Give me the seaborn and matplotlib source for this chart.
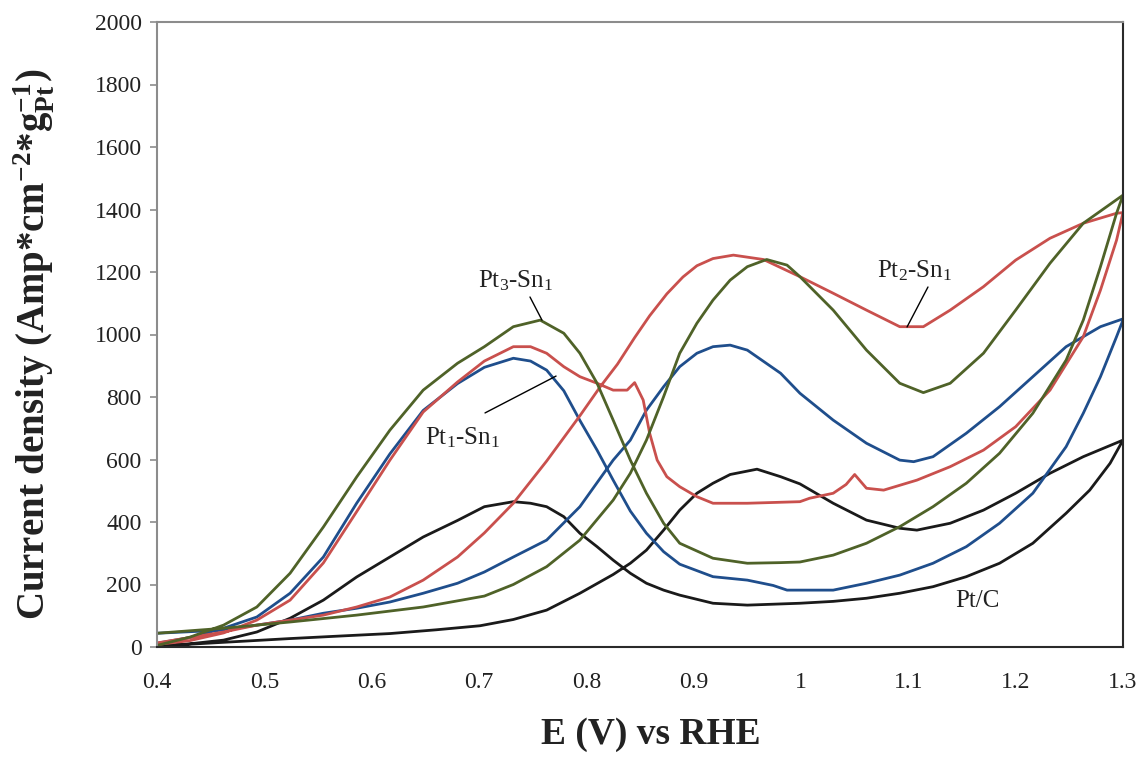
import numpy as np
import pandas as pd
import matplotlib
matplotlib.use("Agg")
import matplotlib.pyplot as plt
import seaborn as sns

# ---------------- data ----------------
# Pt/C (black) forward scan (0.4 -> 1.3) and backward scan (1.3 -> 0.4)
ptc_fwd_v = [0.40, 0.462, 0.524, 0.57, 0.617, 0.66, 0.701, 0.732, 0.763, 0.794, 0.825, 0.841,
             0.856, 0.872, 0.887, 0.903, 0.918, 0.934, 0.959, 0.981, 0.999, 1.03, 1.061, 1.092,
             1.108, 1.139, 1.17, 1.20, 1.232, 1.263, 1.30]
ptc_fwd_i = [3, 15, 27, 35, 43, 55, 68, 88, 118, 172, 232, 268,
             310, 374, 438, 492, 524, 552, 569, 545, 522, 460, 406, 380,
             374, 396, 438, 492, 556, 609, 662]
ptc_bwd_v = [1.30, 1.288, 1.269, 1.247, 1.216, 1.185, 1.154, 1.123, 1.092, 1.061, 1.03, 0.999,
             0.95, 0.918, 0.887, 0.872, 0.856, 0.841, 0.825, 0.81, 0.794, 0.779, 0.763, 0.748,
             0.732, 0.705, 0.68, 0.648, 0.617, 0.586, 0.555, 0.524, 0.493, 0.462, 0.43, 0.40]
ptc_bwd_i = [662, 588, 502, 428, 332, 268, 225, 193, 172, 156, 146, 140,
             134, 140, 166, 182, 204, 236, 278, 321, 364, 417, 449, 460,
             465, 449, 405, 352, 288, 224, 150, 92, 48, 22, 10, 2]

# Pt1-Sn1 (blue)
pt1_fwd_v = [0.40, 0.462, 0.524, 0.555, 0.586, 0.617, 0.648, 0.68, 0.705, 0.732, 0.763, 0.794,
             0.825, 0.841, 0.856, 0.872, 0.887, 0.903, 0.918, 0.934, 0.95, 0.981, 0.999, 1.03,
             1.061, 1.092, 1.105, 1.123, 1.154, 1.185, 1.216, 1.247, 1.279, 1.30]
pt1_fwd_i = [44, 54, 86, 108, 124, 144, 172, 204, 240, 288, 342, 449,
             598, 662, 758, 833, 897, 940, 961, 966, 950, 876, 812, 726,
             652, 598, 593, 609, 684, 769, 865, 961, 1025, 1050]
pt1_bwd_v = [1.30, 1.294, 1.279, 1.263, 1.247, 1.216, 1.185, 1.154, 1.123, 1.092, 1.061, 1.03,
             0.999, 0.987, 0.974, 0.95, 0.918, 0.887, 0.872, 0.856, 0.841, 0.825, 0.81, 0.794,
             0.779, 0.763, 0.748, 0.732, 0.705, 0.68, 0.648, 0.617, 0.586, 0.555, 0.524, 0.493,
             0.462, 0.43, 0.40]
pt1_bwd_i = [1046, 993, 865, 748, 641, 492, 396, 321, 268, 230, 204, 182,
             182, 182, 197, 214, 225, 265, 305, 364, 435, 534, 630, 725,
             820, 886, 915, 924, 895, 843, 757, 618, 460, 288, 172, 96,
             60, 30, 12]

# Pt2-Sn1 (red)
pt2_fwd_v = [0.40, 0.462, 0.493, 0.524, 0.555, 0.586, 0.617, 0.648, 0.68, 0.705, 0.732, 0.763,
             0.794, 0.813, 0.829, 0.845, 0.859, 0.875, 0.89, 0.903, 0.918, 0.937, 0.965, 0.999,
             1.03, 1.061, 1.092, 1.114, 1.139, 1.17, 1.20, 1.232, 1.263, 1.294, 1.30]
pt2_fwd_i = [13, 48, 70, 86, 102, 128, 160, 214, 288, 365, 460, 595,
             740, 833, 905, 990, 1060, 1130, 1184, 1220, 1243, 1254, 1240, 1185,
             1132, 1078, 1025, 1025, 1078, 1153, 1238, 1308, 1356, 1388, 1390]
pt2_bwd_v = [1.30, 1.294, 1.279, 1.263, 1.232, 1.20, 1.17, 1.139, 1.108, 1.077, 1.061, 1.05,
             1.042, 1.03, 1.008, 0.999, 0.95, 0.918, 0.903, 0.887, 0.875, 0.866, 0.859, 0.853,
             0.845, 0.838, 0.825, 0.81, 0.794, 0.779, 0.763, 0.748, 0.732, 0.705, 0.68, 0.648,
             0.617, 0.586, 0.555, 0.524, 0.493, 0.462, 0.43, 0.40]
pt2_bwd_i = [1390, 1302, 1142, 993, 822, 705, 630, 577, 534, 502, 508, 552,
             520, 492, 476, 465, 460, 460, 481, 513, 545, 598, 684, 790,
             846, 822, 822, 844, 865, 897, 940, 961, 961, 915, 848, 752,
             598, 433, 269, 150, 86, 45, 20, 8]

# Pt3-Sn1 (green)
pt3_fwd_v = [0.40, 0.462, 0.524, 0.586, 0.648, 0.705, 0.732, 0.763, 0.794, 0.825, 0.841, 0.856,
             0.872, 0.887, 0.903, 0.918, 0.934, 0.95, 0.968, 0.987, 0.999, 1.03, 1.061, 1.092,
             1.114, 1.139, 1.17, 1.20, 1.232, 1.263, 1.30]
pt3_fwd_i = [44, 60, 80, 102, 128, 163, 200, 257, 342, 470, 556, 662,
             801, 940, 1036, 1110, 1174, 1217, 1240, 1222, 1185, 1078, 950, 844,
             814, 844, 940, 1078, 1228, 1356, 1446]
pt3_bwd_v = [1.30, 1.294, 1.279, 1.263, 1.247, 1.216, 1.185, 1.154, 1.123, 1.092, 1.061, 1.03,
             0.999, 0.981, 0.95, 0.918, 0.887, 0.872, 0.856, 0.841, 0.825, 0.81, 0.794, 0.779,
             0.757, 0.732, 0.705, 0.68, 0.648, 0.617, 0.586, 0.555, 0.524, 0.493, 0.462, 0.431,
             0.40]
pt3_bwd_i = [1446, 1388, 1217, 1046, 918, 748, 620, 524, 449, 385, 332, 294,
             272, 270, 268, 284, 332, 396, 492, 598, 726, 844, 940, 1004,
             1046, 1025, 961, 908, 822, 694, 544, 384, 236, 128, 70, 32,
             5]

x_ticks = [0.4, 0.5, 0.6, 0.7, 0.8, 0.9, 1.0, 1.1, 1.2, 1.3]
x_tick_labels = ["0.4", "0.5", "0.6", "0.7", "0.8", "0.9", "1", "1.1", "1.2", "1.3"]
y_ticks = list(range(0, 2001, 200))

curves = [
    ("Pt/C", ptc_fwd_v + ptc_bwd_v, ptc_fwd_i + ptc_bwd_i, "#1a1a1a"),
    ("Pt1-Sn1", pt1_fwd_v + pt1_bwd_v, pt1_fwd_i + pt1_bwd_i, "#1f4e8c"),
    ("Pt2-Sn1", pt2_fwd_v + pt2_bwd_v, pt2_fwd_i + pt2_bwd_i, "#c9504d"),
    ("Pt3-Sn1", pt3_fwd_v + pt3_bwd_v, pt3_fwd_i + pt3_bwd_i, "#4f6228"),
]

# ---------------- style ----------------
sns.set_theme(style="white")
plt.rcParams["font.family"] = ["Liberation Serif", "DejaVu Serif"]
plt.rcParams["mathtext.fontset"] = "custom"
plt.rcParams["mathtext.rm"] = "Liberation Serif"
plt.rcParams["mathtext.it"] = "Liberation Serif:italic"
plt.rcParams["mathtext.bf"] = "Liberation Serif:bold"

fig = plt.figure(figsize=(11.43, 7.58), dpi=100)
ax = fig.add_axes([157 / 1143, 1 - 647 / 758, (1123 - 157) / 1143, (647 - 22) / 758])

for name, v, i, col in curves:
    df = pd.DataFrame({"E": v, "J": i})
    sns.lineplot(data=df, x="E", y="J", sort=False, estimator=None, color=col,
                 linewidth=2.0, ax=ax)

ax.set_xlim(0.4, 1.3)
ax.set_ylim(0, 2000)
ax.set_xticks(x_ticks)
ax.set_xticklabels(x_tick_labels)
ax.set_yticks(y_ticks)
ax.tick_params(axis="x", length=0, pad=18, labelsize=17, colors="#222222")
ax.tick_params(axis="y", length=5, width=1.2, color="#8c8c8c", pad=6, labelsize=17,
               labelcolor="#222222", left=True)

for s in ["left", "top"]:
    ax.spines[s].set_color("#8c8c8c")
    ax.spines[s].set_linewidth(1.5)
for s in ["right", "bottom"]:
    ax.spines[s].set_color("#2a2a2a")
    ax.spines[s].set_linewidth(1.5)

ax.set_xlabel("E (V) vs RHE", fontsize=27, fontweight="bold", color="#222222")
ax.xaxis.set_label_coords(0.511, -0.112)
ax.set_ylabel(r"Current density (Amp*cm$^{\mathbf{-2}}$*g$_{\mathbf{Pt}}^{\mathbf{-1}}$)",
              fontsize=28, fontweight="bold", color="#222222")
ax.yaxis.set_label_coords(-0.104, 0.484)

# annotations
ann_kw = dict(fontsize=18, color="#222222", ha="center", va="center")
ax.text(0.7345, 1171, r"Pt$_{\mathrm{3}}$-Sn$_{\mathrm{1}}$", **ann_kw)
ax.plot([0.7475, 0.7587], [1120, 1046], color="black", lw=1.0)
ax.text(0.685, 669, r"Pt$_{\mathrm{1}}$-Sn$_{\mathrm{1}}$", **ann_kw)
ax.plot([0.7056, 0.7718], [749, 867], color="black", lw=1.0)
ax.text(1.106, 1203, r"Pt$_{\mathrm{2}}$-Sn$_{\mathrm{1}}$", **ann_kw)
ax.plot([1.1183, 1.0988], [1152, 1024], color="black", lw=1.0)
ax.text(1.164, 147, "Pt/C", **ann_kw)

fig.savefig("out.png", dpi=100)
